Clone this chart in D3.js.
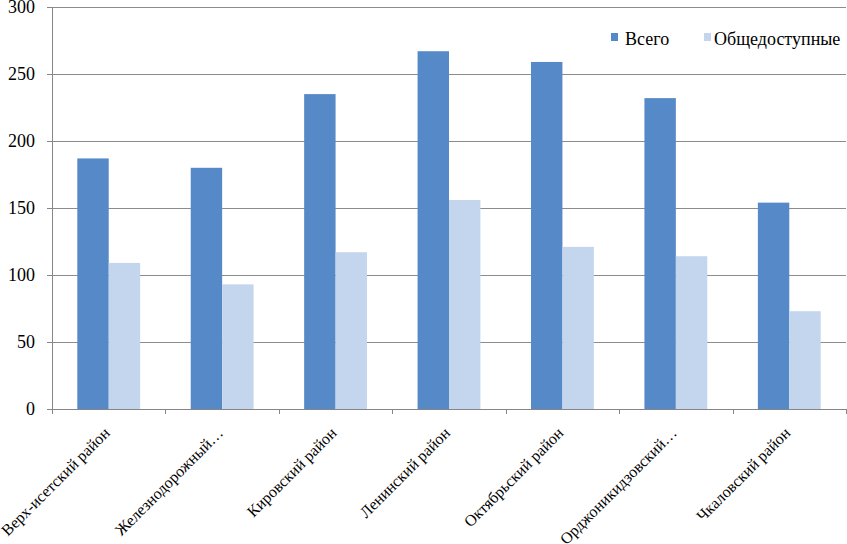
<!DOCTYPE html>
<html>
<head>
<meta charset="utf-8">
<script src="https://cdn.jsdelivr.net/npm/d3@7"></script>
<style>
  body { margin: 0; background: #fff; }
</style>
</head>
<body>
<div id="chart"></div>
<script>
const categories = ["Верх-исетский район", "Железнодорожный…", "Кировский район", "Ленинский район",
    "Октябрьский район", "Орджоникидзовский…", "Чкаловский район"];
const seriesNames = ["Всего", "Общедоступные"];
const totalValues = [187, 180, 235, 267, 259, 232, 154];
const publicValues = [109, 93, 117, 156, 121, 114, 73];
const yTicks = [0, 50, 100, 150, 200, 250, 300];
const colors = ["#5689c8", "#c4d6ee"];

var width = 847, height = 544;
var margin = {top: 7, right: 1, bottom: 135, left: 52};
var plotW = width - margin.left - margin.right,
    plotH = height - margin.top - margin.bottom;

var data = categories.map((c, i) => ({cat: c, values: [totalValues[i], publicValues[i]]}));

var root = d3.select("#chart")
    .append("svg")
    .attr("width", width)
    .attr("height", height)
    .style("font-family", "'Liberation Serif'")
    .style("font-size", "18px");

var svg = root.append("g")
    .attr("transform", `translate(${margin.left}, ${margin.top})`);

var x0 = d3.scaleBand()
    .domain(categories)
    .range([0, plotW])
    .padding(0);

// inner scale: bars take the middle ~57% of each category slot
var x1 = d3.scaleBand()
    .domain(seriesNames)
    .range([x0.bandwidth() * 0.223, x0.bandwidth() * 0.777]);

var y = d3.scaleLinear()
    .domain([0, 300])
    .range([plotH, 0]);

// grid
svg.append("g")
    .selectAll("line")
    .data(yTicks.filter(d => d > 0))
    .enter()
    .append("line")
    .attr("x1", 0)
    .attr("x2", plotW)
    .attr("y1", d => Math.round(y(d)) + 0.5)
    .attr("y2", d => Math.round(y(d)) + 0.5)
    .attr("stroke", "#8c8c8c")
    .attr("stroke-width", 1.2);

// bars
svg.selectAll("g.cat")
    .data(data)
    .enter()
    .append("g")
    .attr("class", "cat")
    .attr("transform", d => `translate(${x0(d.cat)}, 0)`)
    .selectAll("rect")
    .data(d => d.values.map((v, i) => ({name: seriesNames[i], val: v, i: i})))
    .enter()
    .append("rect")
    .attr("x", d => x1(d.name))
    .attr("width", x1.bandwidth())
    .attr("y", d => y(d.val))
    .attr("height", d => y(0) - y(d.val))
    .attr("fill", d => colors[d.i]);

// y axis
var yAxis = svg.append("g")
    .call(d3.axisLeft(y).tickValues(yTicks).tickSize(5).tickPadding(12).tickFormat(d3.format("d")));
yAxis.attr("font-family", null).attr("font-size", null);
yAxis.selectAll("text").attr("fill", "#000");
yAxis.selectAll("line, path").attr("stroke", "#868686");

// x axis: ticks at category boundaries
var xAxis = svg.append("g")
    .attr("transform", `translate(0, ${plotH})`);
xAxis.append("line")
    .attr("x1", -5).attr("x2", plotW)
    .attr("y1", 0.5).attr("y2", 0.5)
    .attr("stroke", "#868686");
xAxis.selectAll("line.tick")
    .data(d3.range(categories.length + 1))
    .enter()
    .append("line")
    .attr("class", "tick")
    .attr("x1", i => Math.round(i * x0.step()) + 0.5)
    .attr("x2", i => Math.round(i * x0.step()) + 0.5)
    .attr("y1", 0)
    .attr("y2", 5)
    .attr("stroke", "#868686");
xAxis.selectAll("text")
    .data(categories)
    .enter()
    .append("text")
    .attr("transform", d => `translate(${x0(d) + x0.bandwidth() / 2 + 2}, 25) rotate(-45)`)
    .attr("text-anchor", "end")
    .style("font-size", "16px")
    .text(d => d);

// legend
var legend = svg.append("g")
    .attr("transform", `translate(${611 - margin.left}, ${45 - margin.top})`);
var legendX = [0, 93];
seriesNames.forEach((s, i) => {
    var g = legend.append("g").attr("transform", `translate(${legendX[i]}, 0)`);
    g.append("rect")
        .attr("x", 0).attr("y", -12)
        .attr("width", 7).attr("height", 8)
        .attr("fill", colors[i]);
    g.append("text")
        .attr("x", i === 0 ? 14 : 10)
        .attr("y", 0)
        .text(s);
});
</script>
</body>
</html>
